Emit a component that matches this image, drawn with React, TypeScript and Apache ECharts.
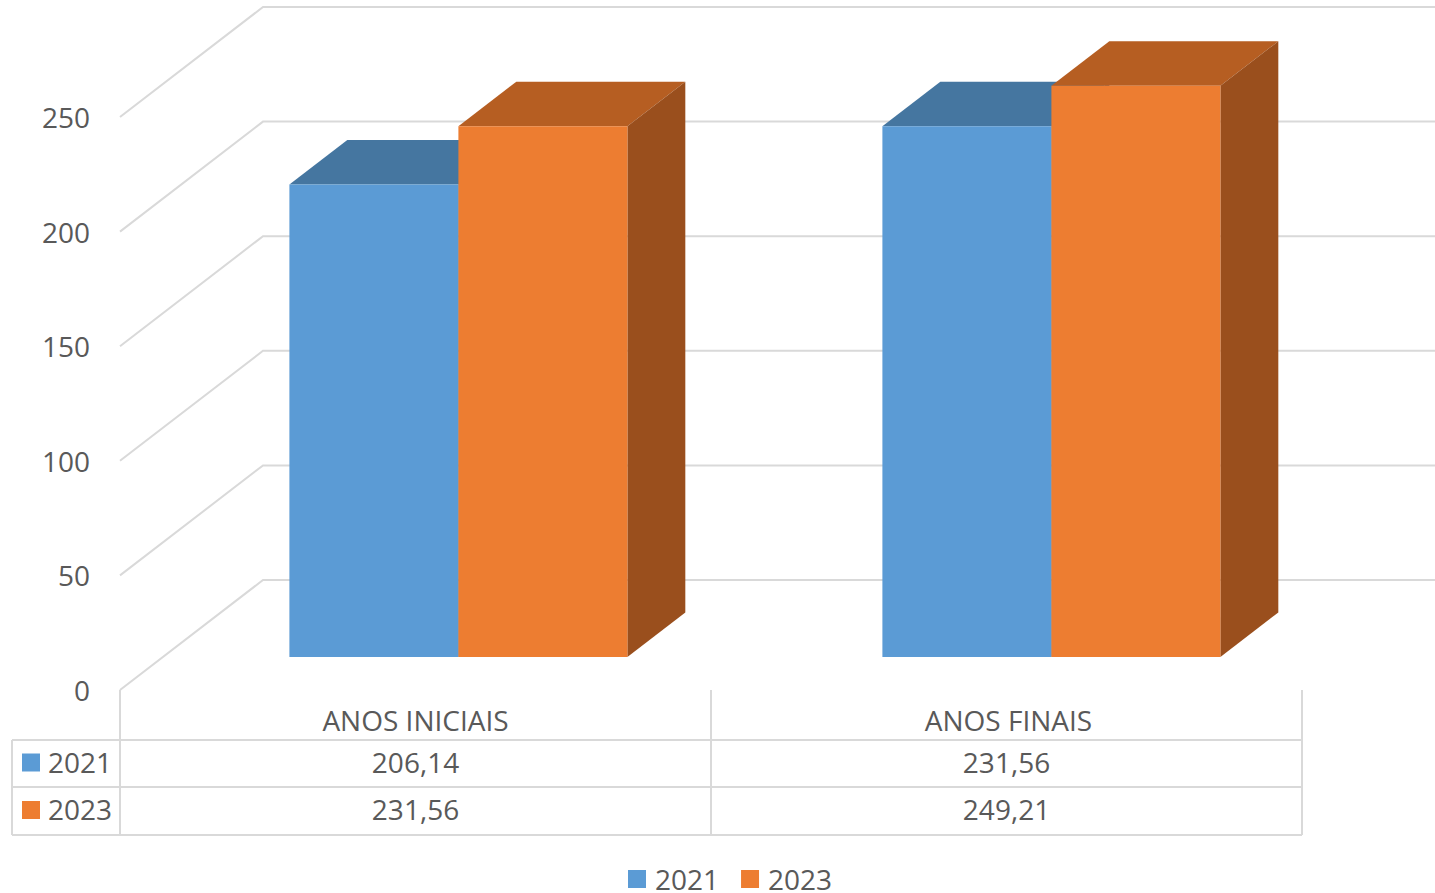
import React, { useEffect, useRef } from "react";
import * as echarts from "echarts";

const categories = ["ANOS INICIAIS", "ANOS FINAIS"];
const seriesNames = ["2021", "2023"];
const values2021 = [206.14, 231.56];
const values2023 = [231.56, 249.21];
const yTicks = [0, 50, 100, 150, 200, 250];

const FONT = "'Open Sans', 'Noto Sans', sans-serif";
const TEXT = "#595959";
const GRID = "#D9D9D9";
const DX = 143;
const DY = -110;
const T0 = 0.3;
const T1 = 0.705;
const BAR_FRAC = 0.285;

const palettes = [
  { front: "#5B9BD5", top: "#4576A0", side: "#41719C" },
  { front: "#ED7D31", top: "#B65E22", side: "#9A4F1D" },
];

const fmt = (v: number) => v.toFixed(2).replace(".", ",");

function barRender(sIdx: number) {
  const pal = palettes[sIdx];
  return (params: any, api: any) => {
    const cat = api.value(0);
    const v = api.value(1);
    const p = api.coord([cat, v]);
    const b = api.coord([cat, 0]);
    const catW = api.size([1, 0])[0];
    const bw = catW * BAR_FRAC;
    const ox = T0 * DX;
    const oy = T0 * DY;
    const ddx = (T1 - T0) * DX;
    const ddy = (T1 - T0) * DY;
    const xL = p[0] + ox + (sIdx === 0 ? -bw : 0);
    const xR = xL + bw;
    const top = p[1] + oy;
    const bot = b[1] + oy;
    return {
      type: "group",
      children: [
        {
          type: "polygon",
          shape: { points: [[xL, top], [xR, top], [xR + ddx, top + ddy], [xL + ddx, top + ddy]] },
          style: { fill: pal.top },
        },
        {
          type: "polygon",
          shape: { points: [[xR, top], [xR + ddx, top + ddy], [xR + ddx, bot + ddy], [xR, bot]] },
          style: { fill: pal.side },
        },
        {
          type: "rect",
          shape: { x: xL, y: top, width: bw, height: bot - top },
          style: { fill: pal.front },
        },
      ],
    };
  };
}

function wallRender(params: any, api: any) {
  const y = api.coord([0, api.value(1)])[1];
  const x0 = 120;
  return {
    type: "polyline",
    shape: { points: [[x0, y], [x0 + DX, y + DY], [api.getWidth(), y + DY]] },
    style: { stroke: GRID, lineWidth: 2, fill: null },
    silent: true,
  };
}

export default function App() {
  const ref = useRef<HTMLDivElement>(null);
  useEffect(() => {
    document.body.style.margin = "0";
    const chart = echarts.init(ref.current!, null, { renderer: "svg" });
    const allValues = [values2021, values2023];
    const colX = [120, 711, 1302];
    const rowY = [740, 787, 835];
    const lines: any[] = [];
    rowY.forEach((y) =>
      lines.push({ type: "line", shape: { x1: 12, y1: y, x2: 1302, y2: y }, style: { stroke: GRID, lineWidth: 2 } })
    );
    lines.push({ type: "line", shape: { x1: 12, y1: 740, x2: 12, y2: 835 }, style: { stroke: GRID, lineWidth: 2 } });
    colX.forEach((x) =>
      lines.push({ type: "line", shape: { x1: x, y1: 690, x2: x, y2: 835 }, style: { stroke: GRID, lineWidth: 2 } })
    );
    const texts: any[] = [];
    seriesNames.forEach((name, i) => {
      const cy = (rowY[i] + rowY[i + 1]) / 2 - 2;
      texts.push({
        type: "rect",
        shape: { x: 22, y: cy - 8, width: 18, height: 18 },
        style: { fill: palettes[i].front },
      });
      texts.push({
        type: "text",
        x: 48,
        y: cy,
        style: { text: name, font: `28px ${FONT}`, fill: TEXT, align: "left", verticalAlign: "middle" },
      });
      allValues[i].forEach((v, j) => {
        texts.push({
          type: "text",
          x: (colX[j] + colX[j + 1]) / 2,
          y: cy,
          style: { text: fmt(v), font: `28px ${FONT}`, fill: TEXT, align: "center", verticalAlign: "middle" },
        });
      });
    });

    chart.setOption({
      animation: false,
      grid: { left: 119, right: 130, top: 117, bottom: 203, containLabel: false },
      legend: {
        data: seriesNames,
        top: 860,
        left: 623,
        padding: 5,
        icon: "rect",
        itemWidth: 18,
        itemHeight: 18,
        itemGap: 22,
        textStyle: { fontSize: 28, color: TEXT, fontFamily: FONT, padding: [0, 0, 0, 4], lineHeight: 22 },
      },
      xAxis: {
        type: "category",
        data: categories,
        axisLine: { show: false },
        axisTick: { show: false },
        axisLabel: { margin: 16, fontSize: 28, color: TEXT, fontFamily: FONT, lineHeight: 28 },
      },
      yAxis: {
        type: "value",
        min: 0,
        max: 250,
        interval: 50,
        axisLine: { show: false },
        axisTick: { show: false },
        splitLine: { show: false },
        axisLabel: { margin: 29, fontSize: 28, color: TEXT, fontFamily: FONT },
      },
      series: [
        {
          type: "custom",
          renderItem: wallRender,
          data: yTicks.map((v) => [0, v]),
          clip: false,
          silent: true,
          z: 1,
        },
        {
          type: "custom",
          name: seriesNames[0],
          renderItem: barRender(0),
          itemStyle: { color: palettes[0].front },
          data: values2021.map((v, i) => [i, v]),
          clip: false,
          z: 2,
        },
        {
          type: "custom",
          name: seriesNames[1],
          renderItem: barRender(1),
          itemStyle: { color: palettes[1].front },
          data: values2023.map((v, i) => [i, v]),
          clip: false,
          z: 3,
        },
      ],
      graphic: [...lines, ...texts],
    });
    return () => chart.dispose();
  }, []);
  return <div ref={ref} style={{ width: 1435, height: 893 }} />;
}
